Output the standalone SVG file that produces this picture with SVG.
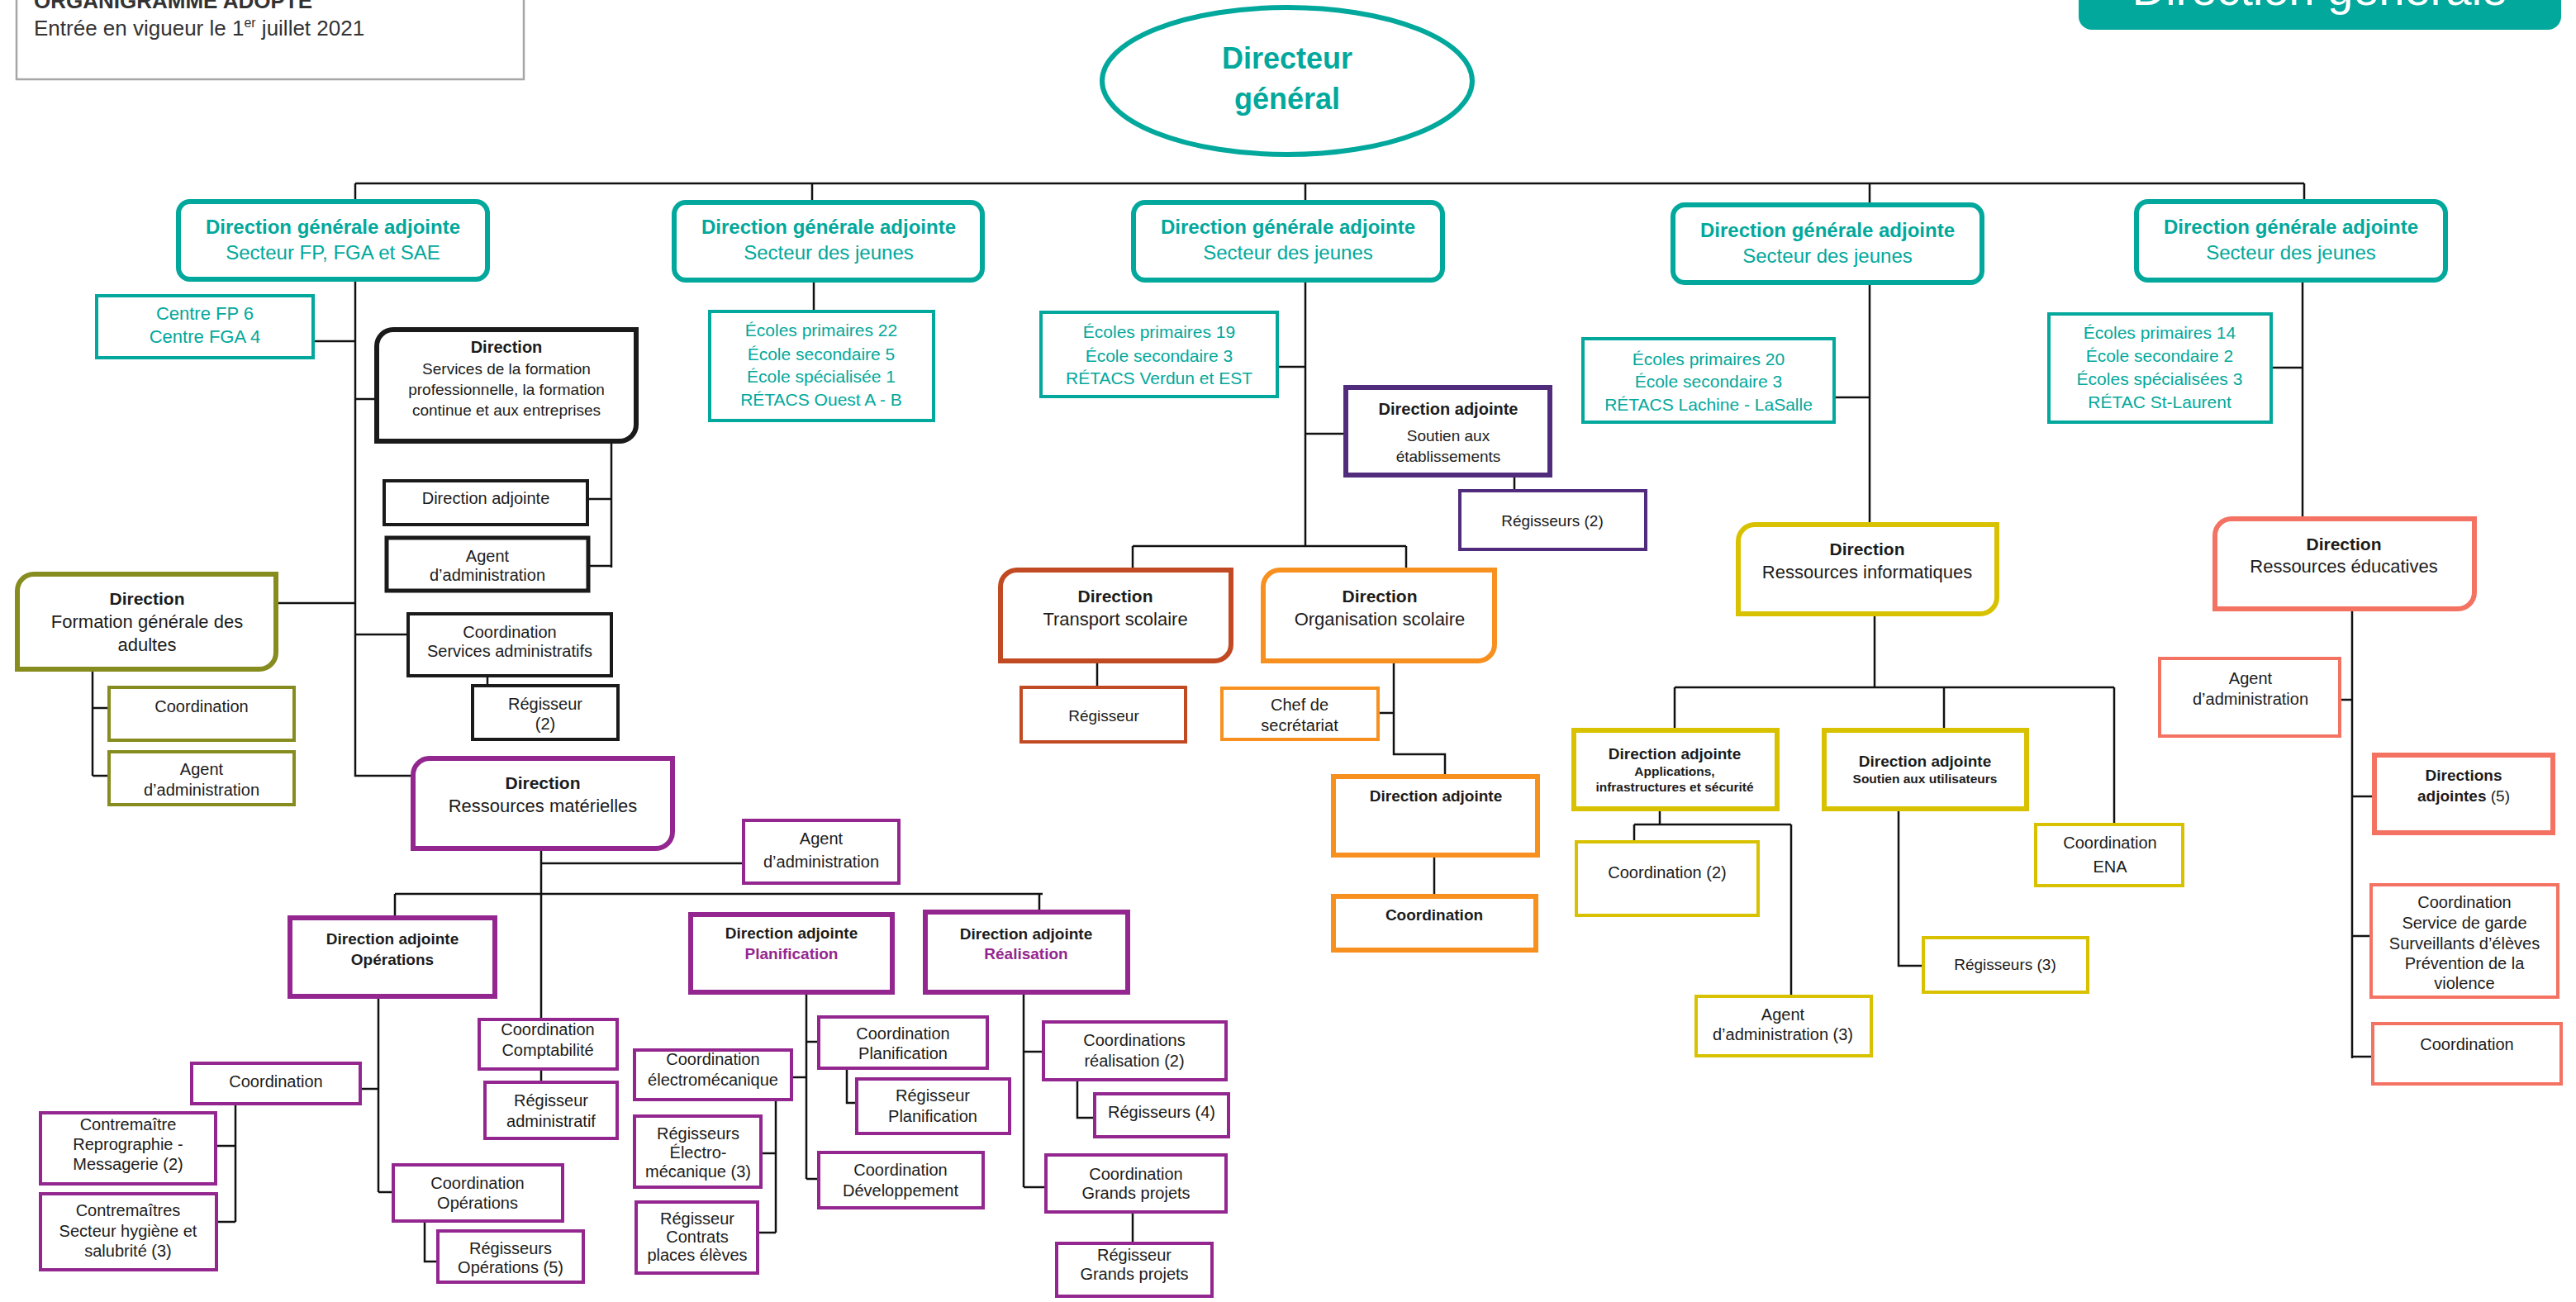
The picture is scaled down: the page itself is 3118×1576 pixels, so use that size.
<svg xmlns="http://www.w3.org/2000/svg" width="3118" height="1576" viewBox="0 0 3118 1576">
<style>
text{font-family:"Liberation Sans",Arial,sans-serif;fill:#1c1c1c;text-anchor:middle;font-size:20px}
.b{font-weight:bold}
.tl{fill:#02a89c}
.pu{fill:#93278f}
.f24{font-size:24px}
.f22{font-size:22px}
.f21{font-size:21px}
.f19{font-size:19px}
.f15{font-size:15.5px}
.bx{fill:#fff;stroke-width:4}
.thick{stroke-width:6}
.teal{stroke:#02a89c}
.blk{stroke:#1a1a1a}
.olv{stroke:#878c1f}
.pur{stroke:#93278f}
.dpu{stroke:#522c7c}
.brn{stroke:#c14a22}
.org{stroke:#f7901e}
.yel{stroke:#d8c200}
.sal{stroke:#f47262}
.c{fill:none;stroke:#111;stroke-width:2.5}
</style>
<defs>
<clipPath id="clipGarde"><rect x="2870" y="1071" width="226" height="126"/></clipPath>
</defs>
<rect width="3118" height="1576" fill="#fff"/>

<g id="header">
<rect x="20" y="-10" width="614" height="106" fill="#fff" stroke="#a6a6a6" stroke-width="2.5"/>
<text x="41" y="10" class="b" style="text-anchor:start;font-size:26px;fill:#333">ORGANIGRAMME ADOPTÉ</text>
<text x="41" y="43" style="text-anchor:start;font-size:26px;fill:#333">Entrée en vigueur le 1<tspan font-size="16" dy="-10">er</tspan><tspan dy="10"> juillet 2021</tspan></text>
<rect x="2516" y="-30" width="584" height="66" rx="16" fill="#02a89c"/>
<text x="2808" y="6" style="font-size:56px;fill:#fff">Direction générale</text>
</g>

<g id="connectors">
<path class="c" d="M430,222H2789"/>
<path class="c" d="M430,222V241M430,341V939H497M381,413H430M430,483H453M337,730H430M430,768H492"/>
<path class="c" d="M740,537V687M713,604H740M714,685H740M590,820V828"/>
<path class="c" d="M112,813V939M112,857H130M112,939H130"/>
<path class="c" d="M655,1030V1232M655,1045H898M478,1082H1262M478,1082V1108M1258,1082V1101"/>
<path class="c" d="M655,1296V1308"/>
<path class="c" d="M458,1209V1443M438,1318H458M458,1443H474"/>
<path class="c" d="M285,1338V1479M263,1387H285M264,1479H285"/>
<path class="c" d="M514,1480V1527H528"/>
<path class="c" d="M976,1204V1427M976,1261H989M960,1304H976M976,1427H989"/>
<path class="c" d="M1025,1295V1335H1035"/>
<path class="c" d="M939,1333V1492M923,1396H939M919,1492H939"/>
<path class="c" d="M1239,1204V1437M1239,1273H1261M1239,1437H1264"/>
<path class="c" d="M1304,1309V1353H1323"/>
<path class="c" d="M1371,1469V1503"/>
<path class="c" d="M983,222V242M985,342V375"/>
<path class="c" d="M1580,222V242M1580,342V661M1548,444H1580M1580,525H1626M1371,661H1702M1371,661V687M1702,661V687"/>
<path class="c" d="M1833,578V592M1328,803V830"/>
<path class="c" d="M1687,803V913H1749V937M1670,863H1687M1736,1038V1082"/>
<path class="c" d="M2263,222V245M2263,345V632M2222,481H2263"/>
<path class="c" d="M2269,746V832M2027,832H2559M2027,832V881M2353,832V881M2559,832V996"/>
<path class="c" d="M2009,982V998M1978,998H2168M1978,998V1017M2168,998V1204"/>
<path class="c" d="M2298,982V1169H2326"/>
<path class="c" d="M2789,222V241M2787,342V625M2751,445H2787"/>
<path class="c" d="M2847,740V1281M2834,847H2847M2847,964H2871M2847,1133H2868M2847,1279H2870"/>
</g>

<g id="dg">
<ellipse cx="1558" cy="98" rx="224" ry="89" fill="#fff" stroke="#02a89c" stroke-width="6"/>
<text class="b tl" style="font-size:36px" x="1558" y="83">Directeur</text>
<text class="b tl" style="font-size:36px" x="1558" y="132">général</text>
</g>

<g id="dga1">
<rect class="bx teal thick" x="216" y="244" width="374" height="94" rx="14"/>
<text class="b tl f24" x="403" y="283">Direction générale adjointe</text>
<text class="tl f24" x="403" y="314">Secteur FP, FGA et SAE</text>
</g>
<g id="dga2">
<rect class="bx teal thick" x="816" y="245" width="373" height="94" rx="14"/>
<text class="b tl f24" x="1003" y="283">Direction générale adjointe</text>
<text class="tl f24" x="1003" y="314">Secteur des jeunes</text>
</g>
<g id="dga3">
<rect class="bx teal thick" x="1372" y="245" width="374" height="94" rx="14"/>
<text class="b tl f24" x="1559" y="283">Direction générale adjointe</text>
<text class="tl f24" x="1559" y="314">Secteur des jeunes</text>
</g>
<g id="dga4">
<rect class="bx teal thick" x="2025" y="248" width="374" height="94" rx="14"/>
<text class="b tl f24" x="2212" y="287">Direction générale adjointe</text>
<text class="tl f24" x="2212" y="318">Secteur des jeunes</text>
</g>
<g id="dga5">
<rect class="bx teal thick" x="2586" y="244" width="374" height="95" rx="14"/>
<text class="b tl f24" x="2773" y="283">Direction générale adjointe</text>
<text class="tl f24" x="2773" y="314">Secteur des jeunes</text>
</g>

<g id="centres">
<rect class="bx teal" x="117" y="358" width="262" height="75"/>
<text class="tl f22" x="248" y="387">Centre FP 6</text>
<text class="tl f22" x="248" y="415">Centre FGA 4</text>
</g>
<g id="ecoles22">
<rect class="bx teal" x="859" y="377" width="271" height="132"/>
<text class="tl f21" x="994" y="407">Écoles primaires 22</text>
<text class="tl f21" x="994" y="436">École secondaire 5</text>
<text class="tl f21" x="994" y="463">École spécialisée 1</text>
<text class="tl f21" x="994" y="491">RÉTACS Ouest A - B</text>
</g>
<g id="ecoles19">
<rect class="bx teal" x="1260" y="378" width="286" height="102"/>
<text class="tl f21" x="1403" y="409">Écoles primaires 19</text>
<text class="tl f21" x="1403" y="438">École secondaire 3</text>
<text class="tl f21" x="1403" y="465">RÉTACS Verdun et EST</text>
</g>
<g id="ecoles20">
<rect class="bx teal" x="1916" y="410" width="304" height="101"/>
<text class="tl f21" x="2068" y="442">Écoles primaires 20</text>
<text class="tl f21" x="2068" y="469">École secondaire 3</text>
<text class="tl f21" x="2068" y="497">RÉTACS Lachine - LaSalle</text>
</g>
<g id="ecoles14">
<rect class="bx teal" x="2480" y="380" width="269" height="131"/>
<text class="tl f21" x="2614" y="410">Écoles primaires 14</text>
<text class="tl f21" x="2614" y="438">École secondaire 2</text>
<text class="tl f21" x="2614" y="466">Écoles spécialisées 3</text>
<text class="tl f21" x="2614" y="494">RÉTAC St-Laurent</text>
</g>

<g id="dir-sfp">
<path class="bx blk thick" d="M476,399H770V514A20,20 0 0 1 750,534H456V419A20,20 0 0 1 476,399Z"/>
<text class="b" x="613" y="427">Direction</text>
<text class="f19" x="613" y="453">Services de la formation</text>
<text class="f19" x="613" y="478">professionnelle, la formation</text>
<text class="f19" x="613" y="503">continue et aux entreprises</text>
</g>
<g id="sfp-da">
<rect class="bx blk" x="465" y="582" width="246" height="53"/>
<text x="588" y="610">Direction adjointe</text>
</g>
<g id="sfp-agent">
<rect class="bx blk" style="stroke-width:5" x="468" y="651" width="244" height="64"/>
<text x="590" y="680">Agent</text>
<text x="590" y="703">d’administration</text>
</g>
<g id="sfp-coord">
<rect class="bx blk" x="494" y="743" width="246" height="75"/>
<text x="617" y="772">Coordination</text>
<text x="617" y="795">Services administratifs</text>
</g>
<g id="sfp-reg">
<rect class="bx blk" x="572" y="830" width="176" height="65"/>
<text x="660" y="859">Régisseur</text>
<text x="660" y="883">(2)</text>
</g>

<g id="dir-fga">
<path class="bx olv thick" d="M41,695H334V790A20,20 0 0 1 314,810H21V715A20,20 0 0 1 41,695Z"/>
<text class="b f21" x="178" y="732">Direction</text>
<text class="f22" x="178" y="760">Formation générale des</text>
<text class="f22" x="178" y="788">adultes</text>
</g>
<g id="fga-coord">
<rect class="bx olv" x="132" y="832" width="224" height="64"/>
<text x="244" y="862">Coordination</text>
</g>
<g id="fga-agent">
<rect class="bx olv" x="132" y="910" width="224" height="64"/>
<text x="244" y="938">Agent</text>
<text x="244" y="963">d’administration</text>
</g>

<g id="dir-rm">
<path class="bx pur thick" d="M520,918H814V1007A20,20 0 0 1 794,1027H500V938A20,20 0 0 1 520,918Z"/>
<text class="b f21" x="657" y="955">Direction</text>
<text class="f22" x="657" y="983">Ressources matérielles</text>
</g>
<g id="rm-agent">
<rect class="bx pur" x="900" y="993" width="188" height="76"/>
<text x="994" y="1022">Agent</text>
<text x="994" y="1050">d’administration</text>
</g>
<g id="rm-da-op">
<rect class="bx pur thick" x="351" y="1111" width="248" height="95"/>
<text class="b f19" x="475" y="1143">Direction adjointe</text>
<text class="b f19" x="475" y="1168">Opérations</text>
</g>
<g id="rm-da-plan">
<rect class="bx pur thick" x="836" y="1107" width="244" height="94"/>
<text class="b f19" x="958" y="1136">Direction adjointe</text>
<text class="b f19 pu" x="958" y="1161">Planification</text>
</g>
<g id="rm-da-real">
<rect class="bx pur thick" x="1120" y="1104" width="245" height="97"/>
<text class="b f19" x="1242" y="1137">Direction adjointe</text>
<text class="b f19 pu" x="1242" y="1161">Réalisation</text>
</g>
<g id="rm-coord">
<rect class="bx pur" x="232" y="1287" width="204" height="49"/>
<text x="334" y="1316">Coordination</text>
</g>
<g id="rm-contre1">
<rect class="bx pur" x="49" y="1347" width="212" height="86"/>
<text x="155" y="1368">Contremaître</text>
<text x="155" y="1392">Reprographie -</text>
<text x="155" y="1416">Messagerie (2)</text>
</g>
<g id="rm-contre2">
<rect class="bx pur" x="49" y="1445" width="213" height="92"/>
<text x="155" y="1472">Contremaîtres</text>
<text x="155" y="1497">Secteur hygiène et</text>
<text x="155" y="1521">salubrité (3)</text>
</g>
<g id="rm-compta">
<rect class="bx pur" x="580" y="1234" width="167" height="60"/>
<text x="663" y="1253">Coordination</text>
<text x="663" y="1278">Comptabilité</text>
</g>
<g id="rm-reg-admin">
<rect class="bx pur" x="587" y="1310" width="160" height="68"/>
<text x="667" y="1339">Régisseur</text>
<text x="667" y="1364">administratif</text>
</g>
<g id="rm-coord-op">
<rect class="bx pur" x="476" y="1410" width="205" height="68"/>
<text x="578" y="1439">Coordination</text>
<text x="578" y="1463">Opérations</text>
</g>
<g id="rm-reg-op">
<rect class="bx pur" x="530" y="1490" width="176" height="62"/>
<text x="618" y="1518">Régisseurs</text>
<text x="618" y="1541">Opérations (5)</text>
</g>
<g id="rm-coord-electro">
<rect class="bx pur" x="768" y="1271" width="190" height="60"/>
<text x="863" y="1289">Coordination</text>
<text x="863" y="1314">électromécanique</text>
</g>
<g id="rm-reg-electro">
<rect class="bx pur" x="768" y="1351" width="153" height="86"/>
<text x="845" y="1379">Régisseurs</text>
<text x="845" y="1402">Électro-</text>
<text x="845" y="1425">mécanique (3)</text>
</g>
<g id="rm-reg-contrats">
<rect class="bx pur" x="770" y="1455" width="147" height="86"/>
<text x="844" y="1482">Régisseur</text>
<text x="844" y="1504">Contrats</text>
<text x="844" y="1526">places élèves</text>
</g>
<g id="rm-coord-plan">
<rect class="bx pur" x="991" y="1231" width="204" height="62"/>
<text x="1093" y="1258">Coordination</text>
<text x="1093" y="1282">Planification</text>
</g>
<g id="rm-reg-plan">
<rect class="bx pur" x="1037" y="1306" width="185" height="66"/>
<text x="1129" y="1333">Régisseur</text>
<text x="1129" y="1358">Planification</text>
</g>
<g id="rm-coord-dev">
<rect class="bx pur" x="991" y="1395" width="199" height="67"/>
<text x="1090" y="1423">Coordination</text>
<text x="1090" y="1448">Développement</text>
</g>
<g id="rm-coord-real">
<rect class="bx pur" x="1263" y="1237" width="221" height="70"/>
<text x="1373" y="1266">Coordinations</text>
<text x="1373" y="1291">réalisation (2)</text>
</g>
<g id="rm-reg4">
<rect class="bx pur" x="1325" y="1324" width="162" height="52"/>
<text x="1406" y="1353">Régisseurs (4)</text>
</g>
<g id="rm-coord-gp">
<rect class="bx pur" x="1266" y="1398" width="218" height="69"/>
<text x="1375" y="1428">Coordination</text>
<text x="1375" y="1451">Grands projets</text>
</g>
<g id="rm-reg-gp">
<rect class="bx pur" x="1279" y="1505" width="188" height="64"/>
<text x="1373" y="1526">Régisseur</text>
<text x="1373" y="1549">Grands projets</text>
</g>

<g id="da-soutien">
<rect class="bx dpu thick" x="1629" y="469" width="247" height="106"/>
<text class="b" x="1753" y="502">Direction adjointe</text>
<text class="f19" x="1753" y="534">Soutien aux</text>
<text class="f19" x="1753" y="559">établissements</text>
</g>
<g id="soutien-reg">
<rect class="bx dpu" x="1767" y="594" width="225" height="71"/>
<text class="f19" x="1879" y="637">Régisseurs (2)</text>
</g>

<g id="dir-transport">
<path class="bx brn thick" d="M1231,690H1490V780A20,20 0 0 1 1470,800H1211V710A20,20 0 0 1 1231,690Z"/>
<text class="b f21" x="1350" y="729">Direction</text>
<text class="f22" x="1350" y="757">Transport scolaire</text>
</g>
<g id="transport-reg">
<rect class="bx brn" x="1236" y="832" width="199" height="66"/>
<text class="f19" x="1336" y="873">Régisseur</text>
</g>

<g id="dir-org">
<path class="bx org thick" d="M1549,690H1809V780A20,20 0 0 1 1789,800H1529V710A20,20 0 0 1 1549,690Z"/>
<text class="b f21" x="1670" y="729">Direction</text>
<text class="f22" x="1670" y="757">Organisation scolaire</text>
</g>
<g id="org-chef">
<rect class="bx org" x="1479" y="833" width="189" height="62"/>
<text x="1573" y="860">Chef de</text>
<text x="1573" y="885">secrétariat</text>
</g>
<g id="org-da">
<rect class="bx org thick" x="1614" y="940" width="247" height="95"/>
<text class="b f19" x="1738" y="970">Direction adjointe</text>
</g>
<g id="org-coord">
<rect class="bx org thick" x="1614" y="1085" width="245" height="65"/>
<text class="b f19" x="1736" y="1114">Coordination</text>
</g>

<g id="dir-ri">
<path class="bx yel thick" d="M2124,635H2417V723A20,20 0 0 1 2397,743H2104V655A20,20 0 0 1 2124,635Z"/>
<text class="b f21" x="2260" y="672">Direction</text>
<text class="f22" x="2260" y="700">Ressources informatiques</text>
</g>
<g id="ri-da-app">
<rect class="bx yel thick" x="1905" y="884" width="246" height="95"/>
<text class="b f19" x="2027" y="919">Direction adjointe</text>
<text class="b f15" x="2027" y="939">Applications,</text>
<text class="b f15" x="2027" y="958">infrastructures et sécurité</text>
</g>
<g id="ri-da-sout">
<rect class="bx yel thick" x="2208" y="884" width="245" height="95"/>
<text class="b f19" x="2330" y="928">Direction adjointe</text>
<text class="b f15" x="2330" y="948">Soutien aux utilisateurs</text>
</g>
<g id="ri-coord2">
<rect class="bx yel" x="1908" y="1019" width="220" height="89"/>
<text x="2018" y="1063">Coordination (2)</text>
</g>
<g id="ri-agent3">
<rect class="bx yel" x="2053" y="1206" width="212" height="72"/>
<text x="2158" y="1235">Agent</text>
<text x="2158" y="1259">d’administration (3)</text>
</g>
<g id="ri-reg3">
<rect class="bx yel" x="2328" y="1135" width="199" height="66"/>
<text class="f19" x="2427" y="1174">Régisseurs (3)</text>
</g>
<g id="ri-ena">
<rect class="bx yel" x="2464" y="998" width="178" height="74"/>
<text x="2554" y="1027">Coordination</text>
<text x="2554" y="1056">ENA</text>
</g>

<g id="dir-re">
<path class="bx sal thick" d="M2701,628H2995V717A20,20 0 0 1 2975,737H2681V648A20,20 0 0 1 2701,628Z"/>
<text class="b f21" x="2837" y="666">Direction</text>
<text class="f22" x="2837" y="693">Ressources éducatives</text>
</g>
<g id="re-agent">
<rect class="bx sal" x="2614" y="797" width="218" height="94"/>
<text x="2724" y="828">Agent</text>
<text x="2724" y="853">d’administration</text>
</g>
<g id="re-da">
<rect class="bx sal thick" x="2874" y="914" width="216" height="94"/>
<text class="b f19" x="2982" y="945">Directions</text>
<text class="f19" x="2982" y="970"><tspan class="b">adjointes</tspan> (5)</text>
</g>
<g id="re-garde">
<rect class="bx sal" x="2870" y="1071" width="226" height="136"/>
<g clip-path="url(#clipGarde)">
<text x="2983" y="1099">Coordination</text>
<text x="2983" y="1124">Service de garde</text>
<text x="2983" y="1149">Surveillants d’élèves</text>
<text x="2983" y="1173">Prévention de la</text>
<text x="2983" y="1197">violence</text>
</g>
</g>
<g id="re-coord">
<rect class="bx sal" x="2872" y="1239" width="228" height="73"/>
<text x="2986" y="1271">Coordination</text>
</g>
</svg>
